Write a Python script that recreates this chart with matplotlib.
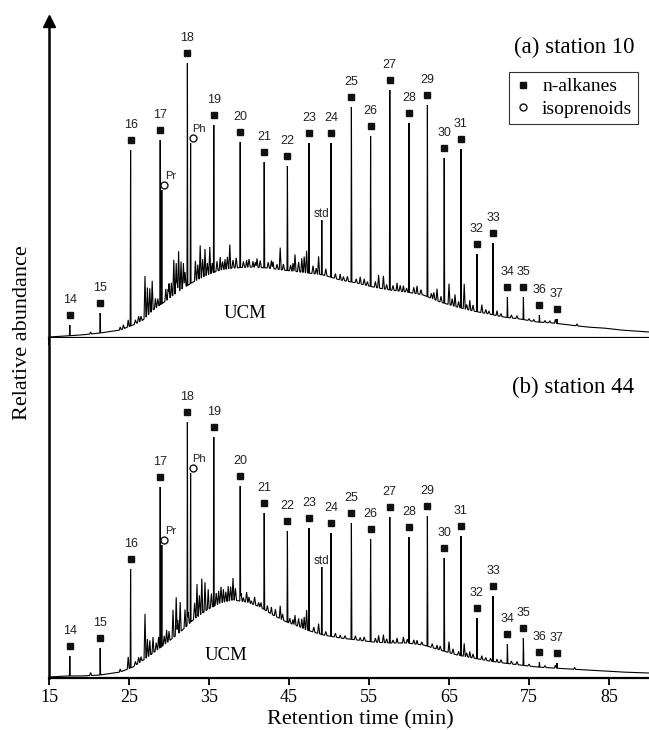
import numpy as np
import matplotlib
matplotlib.use('Agg')
import matplotlib.pyplot as plt
from matplotlib.lines import Line2D
from matplotlib.font_manager import FontProperties

# ---------------- data (heights in relative units) ----------------
alkane_labels = [str(i) for i in range(14, 38)]
alkane_times = [17.6, 21.4, 25.2, 28.9, 32.3, 35.6, 38.9, 41.9, 44.8, 47.5,
                50.25, 52.8, 55.2, 57.6, 60.0, 62.3, 64.4, 66.5, 68.5, 70.5,
                72.3, 74.3, 76.3, 78.5]
top_alkane_h = [13, 25, 188, 198, 275, 213, 196, 176, 172, 195,
                195, 231, 202, 248, 215, 233, 180, 189, 84, 95,
                41, 41, 23, 19]
bot_alkane_h = [22, 30, 109, 191, 256, 241, 192, 165, 147, 150,
                145, 155, 139, 161, 141, 162, 120, 142, 60, 82,
                34, 40, 16, 15]

iso_labels = ['Pr', 'Ph']
iso_times = [29.1, 32.7]
top_iso_h = [148, 195]
bot_iso_h = [133, 205]

std_time = 49.1
top_std_h = 118
bot_std_h = 111

# unresolved complex mixture (UCM) hump, lower envelope
top_env_t = [15, 17, 19, 21.4, 23.9, 25.5, 26.75, 28, 29.75, 31.4, 33, 34.75, 36.4, 38,
             40.1, 42.25, 44.25, 46.4, 49.3, 51.4, 53.5, 55.5, 57.6, 59.7, 61.8, 63.9,
             66, 68, 70, 71.8, 73.9, 76, 78, 80.1, 82.2, 84.3, 86.4, 90]
top_env_h = [1, 2, 3, 5, 8, 13, 18, 28, 38, 48, 56, 63, 68, 70,
             71, 70, 68, 66, 63, 58, 55, 51, 48, 46, 43, 36,
             31, 27, 24, 21, 19, 16, 15, 13, 11, 10, 8, 6]
bot_env_t = [15, 17, 19, 21.4, 23.9, 25.5, 26.8, 28, 29.7, 31.4, 33, 34.7, 36.4, 38,
             39.7, 41.4, 43, 44.7, 46.4, 47.2, 49.3, 51.4, 53.5, 55.5, 57.6, 59.7,
             61.8, 63.9, 66, 68, 70, 71.8, 73.9, 76, 78, 80.1, 82.2, 84.3, 86.4, 90]
bot_env_h = [1, 2, 2, 3, 6, 11, 18, 25, 35, 46, 58, 68, 75, 78,
             76, 71, 63, 56, 51, 48, 43, 40, 38, 36, 35, 35,
             33, 28, 23, 20, 17, 15, 13, 11, 10, 9, 8, 7, 6, 5]

# minor (unlabelled) peaks: time, height above hump
top_minor_t = [20.2, 23.9, 24.3, 24.9, 27.0, 27.3, 27.6, 27.9, 28.3, 29.6, 30.0, 30.3,
               30.6, 30.9, 31.2, 31.5, 31.8, 33.3, 33.9, 34.5, 35.1, 36.4, 37.0, 37.6,
               39.7, 40.5, 41.0, 43.0, 43.9, 45.5, 45.75, 46.6, 46.9, 47.2, 48.7, 51.4,
               53.9, 56.2, 56.8, 58.5, 59.3, 61.0, 63.5, 65.0, 65.75, 66.9, 67.6, 69.1,
               71.0, 78.3, 81.0]
top_minor_h = [2, 3, 4, 7, 42, 28, 25, 30, 10, 12, 15, 14,
               35, 30, 40, 28, 25, 20, 33, 27, 27, 13, 10, 24,
               7, 6, 9, 7, 22, 8, 17, 14, 16, 22, 18, 6,
               7, 13, 13, 8, 6, 8, 12, 21, 12, 25, 10, 8,
               5, 4, 2]
bot_minor_t = [20.2, 23.9, 24.9, 27.0, 27.3, 27.6, 28.0, 28.7, 29.7, 30.0, 30.5, 30.9,
               31.4, 32.0, 33.5, 34.1, 34.5, 34.9, 36.2, 36.8, 37.4, 38.0, 39.3, 40.3,
               41.2, 42.8, 43.9, 45.5, 45.75, 46.6, 46.9, 47.2, 48.7, 51.4, 53.9, 56.2,
               56.8, 58.5, 59.3, 61.0, 63.5, 65.0, 66.9, 67.6, 69.1, 71.0, 78.3, 80.7]
bot_minor_h = [3, 3, 12, 45, 18, 15, 16, 12, 13, 10, 28, 38,
               30, 18, 33, 35, 29, 20, 13, 13, 15, 22, 4, 3,
               4, 7, 13, 5, 10, 9, 12, 20, 10, 3, 3, 7,
               8, 5, 6, 4, 4, 11, 13, 6, 4, 3, 3, 2]

# baseline noise (small spikes on the hump), time, height above hump
top_noise_t = [25.8, 26.2, 26.5, 28.6, 29.9, 31.0, 32.0, 33.6, 34.2, 34.8, 35.4, 36.0,
               36.7, 37.3, 38.0, 38.4, 39.3, 40.0, 40.8, 41.4, 42.4, 42.8, 43.5, 44.3,
               45.2, 46.2, 48.0, 48.4, 49.6, 50.8, 51.8, 52.3, 53.4, 54.4, 54.8, 55.8,
               57.2, 58.0, 58.9, 59.7, 60.6, 61.5, 62.8, 63.1, 64.0, 65.4, 66.2, 67.2,
               68.0, 69.6, 70.0, 71.5, 72.8, 73.5, 75.0, 75.6, 77.0, 77.6]
top_noise_h = [4, 6, 5, 8, 10, 12, 15, 15, 18, 12, 10, 10,
               8, 12, 8, 10, 6, 8, 5, 7, 6, 8, 5, 6,
               6, 10, 8, 6, 7, 5, 4, 5, 4, 6, 4, 6,
               5, 5, 6, 4, 6, 5, 5, 7, 6, 7, 6, 5,
               6, 4, 3, 3, 3, 3, 2, 2, 2, 2]
bot_noise_t = [25.8, 26.2, 26.5, 28.4, 29.4, 31.1, 32.4, 33.2, 33.8, 35.3, 35.9, 36.5,
               37.1, 37.7, 38.3, 39.0, 39.7, 40.0, 40.7, 41.5, 42.3, 43.3, 44.2, 45.1,
               46.2, 48.1, 49.6, 50.8, 52.0, 53.3, 54.4, 55.8, 57.2, 58.0, 59.8, 60.6,
               61.6, 62.9, 63.9, 65.5, 66.2, 67.2, 68.0, 69.6, 70.2, 71.5, 72.8, 73.5,
               75.0, 77.0]
bot_noise_h = [4, 6, 5, 8, 9, 14, 12, 16, 20, 14, 12, 16,
               10, 14, 12, 8, 10, 6, 8, 5, 6, 7, 6, 5,
               8, 5, 4, 4, 3, 4, 4, 4, 4, 3, 4, 4,
               3, 4, 4, 5, 4, 4, 4, 3, 3, 3, 3, 3,
               2, 2]

panel_titles = ['(a) station 10', '(b) station 44']
x_ticks = [15, 25, 35, 45, 55, 65, 75, 85]

# ---------------- drawing ----------------
SERIF = 'Liberation Serif'
SANS = 'Liberation Sans'

fig = plt.figure(figsize=(6.49, 7.30), dpi=100)
W, H = 649.0, 730.0
ax1 = fig.add_axes([49 / W, (H - 338) / H, 600 / W, (338 - 21) / H])
ax2 = fig.add_axes([49 / W, (H - 678) / H, 600 / W, (678 - 338) / H])


def build_trace(env_t, env_h, pk_t, pk_top, mn_t, mn_h, nz_t, nz_h):
    x = np.linspace(15, 90, 7501)
    base = np.interp(x, env_t, env_h)
    y = base.copy()
    for t, top in zip(pk_t, pk_top):
        amp = top - np.interp(t, env_t, env_h)
        y = np.maximum(y, base + amp * np.clip(1 - np.abs(x - t) / 0.05, 0, None))
    for t, a in zip(mn_t, mn_h):
        y = np.maximum(y, base + a * np.clip(1 - np.abs(x - t) / 0.12, 0, None))
    for t, a in zip(nz_t, nz_h):
        y = np.maximum(y, base + a * np.clip(1 - np.abs(x - t) / 0.14, 0, None))
    return x, y


def draw_panel(ax, env_t, env_h, alk_h, iso_h, std_h, mn_t, mn_h, nz_t, nz_h,
               title, ucm_xy, ymax, title_y):
    pk_t = alkane_times + iso_times + [std_time]
    pk_h = alk_h + iso_h + [std_h]
    x, y = build_trace(env_t, env_h, pk_t, pk_h, mn_t, mn_h, nz_t, nz_h)
    ax.plot(x, y, color='black', lw=0.8, solid_joinstyle='miter')

    # n-alkane markers and labels
    mk_off, lb_off = 10, 15
    for lab, t, h in zip(alkane_labels, alkane_times, alk_h):
        ax.plot(t, h + mk_off, marker='s', ms=5, color='#111111', ls='none')
        ax.text(t, h + mk_off + lb_off, lab, ha='center', va='center',
                fontsize=9, family=SANS, color='#222222')
    # isoprenoids
    for lab, t, h in zip(iso_labels, iso_times, iso_h):
        ax.plot(t + 0.28, h + 5, marker='o', ms=5, mfc='white', mec='#111111',
                mew=1.0, ls='none')
        ax.text(t + 1.05, h + 14, lab, ha='center', va='center',
                fontsize=8, family=SANS, color='#222222')
    ax.text(std_time, std_h + 6, 'std', ha='center', va='center',
            fontsize=8.5, family=SANS, color='#222222')
    ax.text(ucm_xy[0], ucm_xy[1], 'UCM', ha='center', va='center',
            fontsize=13.5, family=SERIF)
    ax.text(0.975, title_y, title, transform=ax.transAxes, ha='right',
            va='center', fontsize=16.5, family=SERIF)

    ax.set_xlim(15, 90)
    ax.set_ylim(0, ymax)
    ax.set_xticks(x_ticks)
    ax.set_yticks([])
    for s in ['top', 'right']:
        ax.spines[s].set_visible(False)
    ax.spines['left'].set_linewidth(1.8)
    ax.spines['bottom'].set_linewidth(1.6)
    ax.tick_params(axis='x', direction='out', length=5, width=1.3, pad=3)
    for lbl in ax.get_xticklabels():
        lbl.set_fontfamily(SERIF)
        lbl.set_fontsize(13)


draw_panel(ax1, top_env_t, top_env_h, top_alkane_h, top_iso_h, top_std_h,
           top_minor_t, top_minor_h, top_noise_t, top_noise_h,
           panel_titles[0], (39.5, 24), 317, 0.915)
draw_panel(ax2, bot_env_t, bot_env_h, bot_alkane_h, bot_iso_h, bot_std_h,
           bot_minor_t, bot_minor_h, bot_noise_t, bot_noise_h,
           panel_titles[1], (37.1, 22), 340, 0.856)
ax1.tick_params(axis='x', labelbottom=False)

# arrow head on the y axis
ax1.plot([0], [1], marker='^', ms=9, color='black', transform=ax1.transAxes,
         clip_on=False)

# legend
handles = [Line2D([], [], marker='s', ls='none', color='#111111', ms=5),
           Line2D([], [], marker='o', ls='none', mfc='white', mec='#111111',
                  ms=5, mew=1.0)]
leg = ax1.legend(handles, ['n-alkanes', 'isoprenoids'], loc='upper right',
                 bbox_to_anchor=(0.982, 0.839), frameon=True, fancybox=False,
                 edgecolor='#333333', framealpha=1,
                 prop=FontProperties(family=SERIF, size=14),
                 handlelength=0.8, handletextpad=0.6, borderpad=0.3,
                 labelspacing=0.25, borderaxespad=0)
leg.get_frame().set_linewidth(0.8)

ax2.set_xlabel('Retention time (min)', fontsize=16, family=SERIF, labelpad=1)
ax2.xaxis.set_label_coords((360 - 49) / 600, -0.095)
fig.text(0.034, 0.545, 'Relative abundance', rotation=90, ha='center',
         va='center', fontsize=16, family=SERIF)

fig.savefig('out.png', dpi=100)
